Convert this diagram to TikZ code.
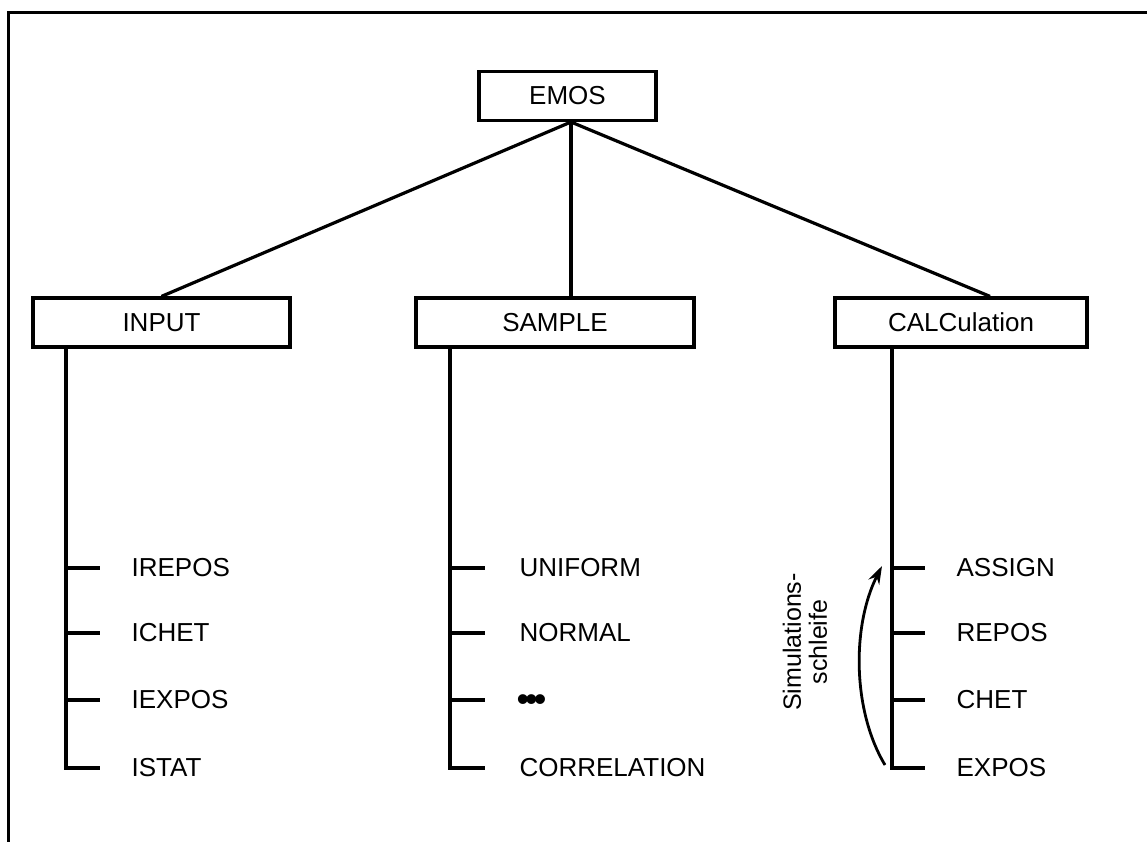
\documentclass[tikz,border=0pt]{standalone}
\usepackage{fontspec}
\setmainfont{Liberation Sans}
\usetikzlibrary{arrows.meta}
\begin{document}
\begin{tikzpicture}[x=1pt,y=-1pt,
  line width=3.2pt,
  box/.style={draw,line width=3.2pt,minimum width=#1,minimum height=49pt,inner sep=0pt,font=\fontsize{26}{28}\selectfont},
  item/.style={anchor=west,inner sep=0pt,font=\fontsize{26}{28}\selectfont},
]
\useasboundingbox (0,0) rectangle (1147,842);
% outer frame (top and left edges)
\draw[line width=3pt] (8,842) -- (8,13) -- (1147,13);

% tree nodes
\node[box=177pt] (emos) at (567.5,96) {EMOS};
\node[box=257pt] (input) at (161.5,322.5) {INPUT};
\node[box=278pt] (sample) at (555,322.5) {SAMPLE};
\node[box=252pt] (calc) at (961,322.5) {CALCulation};

\coordinate (top) at (571,122);
\draw (top) -- (input.north);
\draw (top) -- (571,298);
\draw (top) -- (calc.north -| 990,0);

% INPUT branch
\foreach \y/\t/\n in {568/IREPOS/i1, 633/ICHET/i2, 700/IEXPOS/i3, 768/ISTAT/i4}{
  \node[item] (\n) at (130,\y) {\t};
  \draw (66,\y) -- (100,\y);
}
\draw (66,347) -- (66,769.6);

% SAMPLE branch
\foreach \y/\t/\n in {568/UNIFORM/s1, 633/NORMAL/s2, 768/CORRELATION/s4}{
  \node[item] (\n) at (518,\y) {\t};
  \draw (450,\y) -- (485,\y);
}
\node[item,font=\fontsize{36}{36}\selectfont] (s3) at (515,703) {\textbullet\kern-4pt\textbullet\kern-4pt\textbullet};
\draw (450,700) -- (485,700);
\draw (450,347) -- (450,769.6);

% CALCulation branch
\foreach \y/\t/\n in {568/ASSIGN/c1, 633/REPOS/c2, 700/CHET/c3, 768/EXPOS/c4}{
  \node[item] (\n) at (955,\y) {\t};
  \draw (892,\y) -- (925,\y);
}
\draw (892,347) -- (892,769.6);

% simulation loop arrow
\coordinate (la) at (885,765);
\coordinate (lb) at (882,566);
\draw[line width=2.8pt,-{Stealth[length=18pt,width=12pt]}] (la) .. controls (852,710) and (852,625) .. (lb);
\node[rotate=90,align=center,font=\fontsize{25}{26}\selectfont,inner sep=0pt] (loop) at (805,642) {Simulations-\\schleife};
\end{tikzpicture}
\end{document}
